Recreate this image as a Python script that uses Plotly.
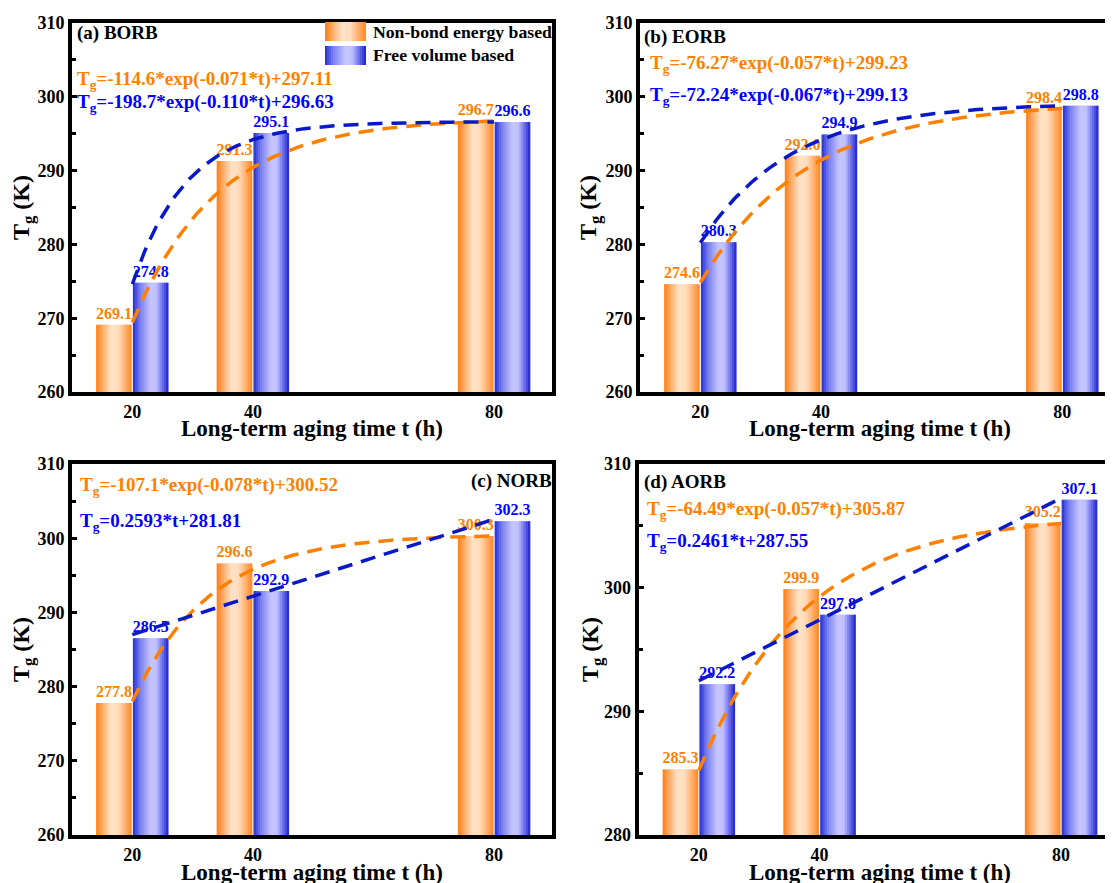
import numpy as np
import plotly.graph_objects as go

# page window is 1113x883; the html body adds an 8px margin, so the figure is
# sized to fill what remains and every layout position is given in page pixels
PAGE_W, PAGE_H = 1113, 883
OX, OY = 8, 8
W, H = PAGE_W - OX, PAGE_H - OY

# ---------------- data ----------------
times = [20, 40, 80]
tick_labels = ["20", "40", "80"]
series_names = ["Non-bond energy based", "Free volume based"]
panel_names = ["(a) BORB", "(b) EORB", "(c) NORB", "(d) AORB"]
x_title = "Long-term aging time t (h)"
y_title = "T<sub>g</sub> (K)"

nonbond_a = [269.1, 291.3, 296.7]
freevol_a = [274.8, 295.1, 296.6]
nonbond_b = [274.6, 292.0, 298.4]
freevol_b = [280.3, 294.9, 298.8]
nonbond_c = [277.8, 296.6, 300.3]
freevol_c = [286.5, 292.9, 302.3]
nonbond_d = [285.3, 299.9, 305.2]
freevol_d = [292.2, 297.8, 307.1]

# fitted curves: exponential [A, k, C] -> A*exp(k*t)+C ; linear [m, b] -> m*t+b
fit_nonbond_a = [-114.6, -0.071, 297.11]
fit_freevol_a = [-198.7, -0.110, 296.63]
fit_nonbond_b = [-76.27, -0.057, 299.23]
fit_freevol_b = [-72.24, -0.067, 299.13]
fit_nonbond_c = [-107.1, -0.078, 300.52]
fit_freevol_c = [0.2593, 281.81]
fit_nonbond_d = [-64.49, -0.057, 305.87]
fit_freevol_d = [0.2461, 287.55]

y_ranges = [[260, 310], [260, 310], [260, 310], [280, 310]]
x_ranges = [[10, 89.6], [10, 88.4], [10, 89.6], [10, 88.6]]

panels = [
    (nonbond_a, freevol_a, fit_nonbond_a, fit_freevol_a),
    (nonbond_b, freevol_b, fit_nonbond_b, fit_freevol_b),
    (nonbond_c, freevol_c, fit_nonbond_c, fit_freevol_c),
    (nonbond_d, freevol_d, fit_nonbond_d, fit_freevol_d),
]

# ---------------- style ----------------
FONT = "Liberation Serif, Times New Roman, serif"
ORANGE_TXT = "rgb(255,128,0)"
BLUE_TXT = "rgb(0,0,255)"
ORANGE_LINE = "rgb(255,128,0)"
BLUE_LINE = "rgb(10,25,200)"

orange_stops = [(0.0, (255, 125, 20)), (0.18, (255, 172, 105)), (0.42, (255, 226, 198)),
                (0.62, (255, 220, 188)), (0.85, (255, 168, 95)), (1.0, (255, 135, 35))]
blue_stops = [(0.0, (35, 45, 210)), (0.2, (120, 125, 240)), (0.5, (198, 198, 255)),
              (0.66, (192, 192, 255)), (0.86, (95, 100, 232)), (1.0, (25, 30, 205))]


def grad(stops, f):
    for (p0, c0), (p1, c1) in zip(stops[:-1], stops[1:]):
        if p0 <= f <= p1:
            u = (f - p0) / (p1 - p0)
            c = [round(a + (b - a) * u) for a, b in zip(c0, c1)]
            return f"rgb({c[0]},{c[1]},{c[2]})"
    c = stops[-1][1]
    return f"rgb({c[0]},{c[1]},{c[2]})"


def px(x):
    return min(1.0, max(0.0, (x - OX) / W))


def py(y):
    return min(1.0, max(0.0, 1 - (y - OY) / H))


# plot-area page-pixel boxes (inner edges): left, right, top, bottom
boxes = [(72, 552, 23, 392), (640, PAGE_W, 23, 392), (72, 552, 464, 835), (638.5, PAGE_W, 464, 835)]
mirror_y = [True, False, True, False]
x_title_pos = [(312, 429), (880, 429), (312, 872), (880, 872)]

BAR_W = 6.0
GAP = 0.1
N_STRIPS = 16

fig = go.Figure()


def fit_eval(fit, t):
    if len(fit) == 3:
        return fit[0] * np.exp(fit[1] * t) + fit[2]
    return fit[0] * t + fit[1]


def fit_text(fit):
    if len(fit) == 3:
        return f"T<sub>g</sub>={fit[0]}*exp({fit[1]:.3f}*t)+{fit[2]:.2f}"
    return f"T<sub>g</sub>={fit[0]:.4f}*t+{fit[1]:.2f}"


layout_axes = {}
annotations = []
shapes = []

for i, (nb, fv, fnb, ffv) in enumerate(panels):
    sfx = "" if i == 0 else str(i + 1)
    xa, ya = "x" + sfx, "y" + sfx
    l, r, t, b = boxes[i]

    for j, (vals, stops, txtcol, off0, nm) in enumerate([
        (nb, orange_stops, ORANGE_TXT, -BAR_W, series_names[0]),
        (fv, blue_stops, BLUE_TXT, GAP, series_names[1]),
    ]):
        wbar = BAR_W - GAP
        fig.add_trace(go.Bar(
            x=times, y=vals, xaxis=xa, yaxis=ya, name=nm,
            width=[wbar] * len(times), offset=off0,
            marker=dict(color=grad(stops, 0.5), line=dict(width=0)),
            text=[f"{v:.1f}" for v in vals], textposition="outside",
            constraintext="none", cliponaxis=False,
            textfont=dict(family=FONT, size=16, color=txtcol, weight="bold"),
            showlegend=False, hovertemplate="%{x} h: %{y} K<extra>" + nm + "</extra>",
        ))
        sw = wbar / N_STRIPS
        for k in range(N_STRIPS):
            fig.add_trace(go.Bar(
                x=times, y=vals, xaxis=xa, yaxis=ya,
                width=[sw + (0.12 if k < N_STRIPS - 1 else 0)] * len(times),
                offset=off0 + k * sw,
                marker=dict(color=grad(stops, (k + 0.5) / N_STRIPS), line=dict(width=0)),
                showlegend=False, hoverinfo="skip",
            ))

    tt = np.linspace(times[0], times[-1], 121)
    fig.add_trace(go.Scatter(x=tt, y=fit_eval(fnb, tt), xaxis=xa, yaxis=ya, mode="lines",
                             line=dict(color=ORANGE_LINE, width=3.5, dash="15px,9px"),
                             showlegend=False, hoverinfo="skip"))
    fig.add_trace(go.Scatter(x=tt, y=fit_eval(ffv, tt), xaxis=xa, yaxis=ya, mode="lines",
                             line=dict(color=BLUE_LINE, width=3.5, dash="15px,9px"),
                             showlegend=False, hoverinfo="skip"))

    axis_common = dict(showline=True, linewidth=4, linecolor="black", showgrid=False,
                       zeroline=False, automargin=False)
    layout_axes["xaxis" + sfx] = dict(
        domain=[px(l), px(r)], range=x_ranges[i], anchor=ya,
        tickvals=times, ticktext=tick_labels, ticks="", mirror=True,
        tickfont=dict(family=FONT, size=18, color="black", weight="bold"),
        **axis_common)
    layout_axes["yaxis" + sfx] = dict(
        domain=[py(b), py(t)], range=y_ranges[i], anchor=xa, dtick=10,
        ticks="inside", ticklen=5, tickwidth=3, tickcolor="black", mirror=mirror_y[i],
        minor=dict(ticks="inside", ticklen=4, tickwidth=3, dtick=5, tickcolor="black"),
        tickfont=dict(family=FONT, size=18, color="black", weight="bold"),
        title=dict(text=y_title, standoff=0,
                   font=dict(family=FONT, size=24, color="black", weight="bold")),
        **axis_common)

    # x-axis title placed as paper text so it sits as close to the ticks as in the original
    tx, ty = x_title_pos[i]
    annotations.append(dict(x=px(tx), y=py(ty), xref="paper", yref="paper", xanchor="center",
                            yanchor="middle", showarrow=False, text=x_title,
                            font=dict(family=FONT, size=23, color="black", weight="bold")))

# ---------------- text annotations (page pixels) ----------------
label_pos = [(75, 33, "left"), (642, 37, "left"), (554, 481, "right"), (642, 482, "left")]
eq_pos = [((75, 80), (75, 103)), ((648, 64), (648, 96)),
          ((78, 486), (78, 522)), ((645, 510), (645, 542))]
fits = [(p[2], p[3]) for p in panels]

for i in range(4):
    x0, y0, anc = label_pos[i]
    annotations.append(dict(x=px(x0), y=py(y0), xref="paper", yref="paper", xanchor=anc,
                            yanchor="middle", showarrow=False, text=panel_names[i],
                            font=dict(family=FONT, size=19, color="black", weight="bold")))
    for (ex, ey), fit, col in zip(eq_pos[i], fits[i], [ORANGE_TXT, BLUE_TXT]):
        annotations.append(dict(x=px(ex), y=py(ey), xref="paper", yref="paper", xanchor="left",
                                yanchor="middle", showarrow=False, text=fit_text(fit),
                                font=dict(family=FONT, size=19, color=col, weight="bold")))

# ---------------- custom legend (gradient swatches) ----------------
leg_x0, leg_x1 = 325, 366
leg_rows = [(22, 41, orange_stops, series_names[0]), (46, 65, blue_stops, series_names[1])]
NL = 20
for y0, y1, stops, nm in leg_rows:
    sw = (leg_x1 - leg_x0) / NL
    for k in range(NL):
        shapes.append(dict(type="rect", xref="paper", yref="paper",
                           x0=px(leg_x0 + k * sw), x1=px(leg_x0 + (k + 1) * sw + (0.6 if k < NL - 1 else 0)),
                           y0=py(y1), y1=py(y0), line=dict(width=0),
                           fillcolor=grad(stops, (k + 0.5) / NL)))
    annotations.append(dict(x=px(371), y=py((y0 + y1) / 2), xref="paper", yref="paper",
                            xanchor="left", yanchor="middle", showarrow=False, text=nm,
                            font=dict(family=FONT, size=17.7, color="black", weight="bold")))

fig.update_layout(
    width=W, height=H, margin=dict(l=0, r=0, t=0, b=0),
    paper_bgcolor="white", plot_bgcolor="white",
    barmode="overlay", showlegend=False,
    annotations=annotations, shapes=shapes,
    font=dict(family=FONT, color="black"),
    **layout_axes,
)

fig.write_html("out.html")
